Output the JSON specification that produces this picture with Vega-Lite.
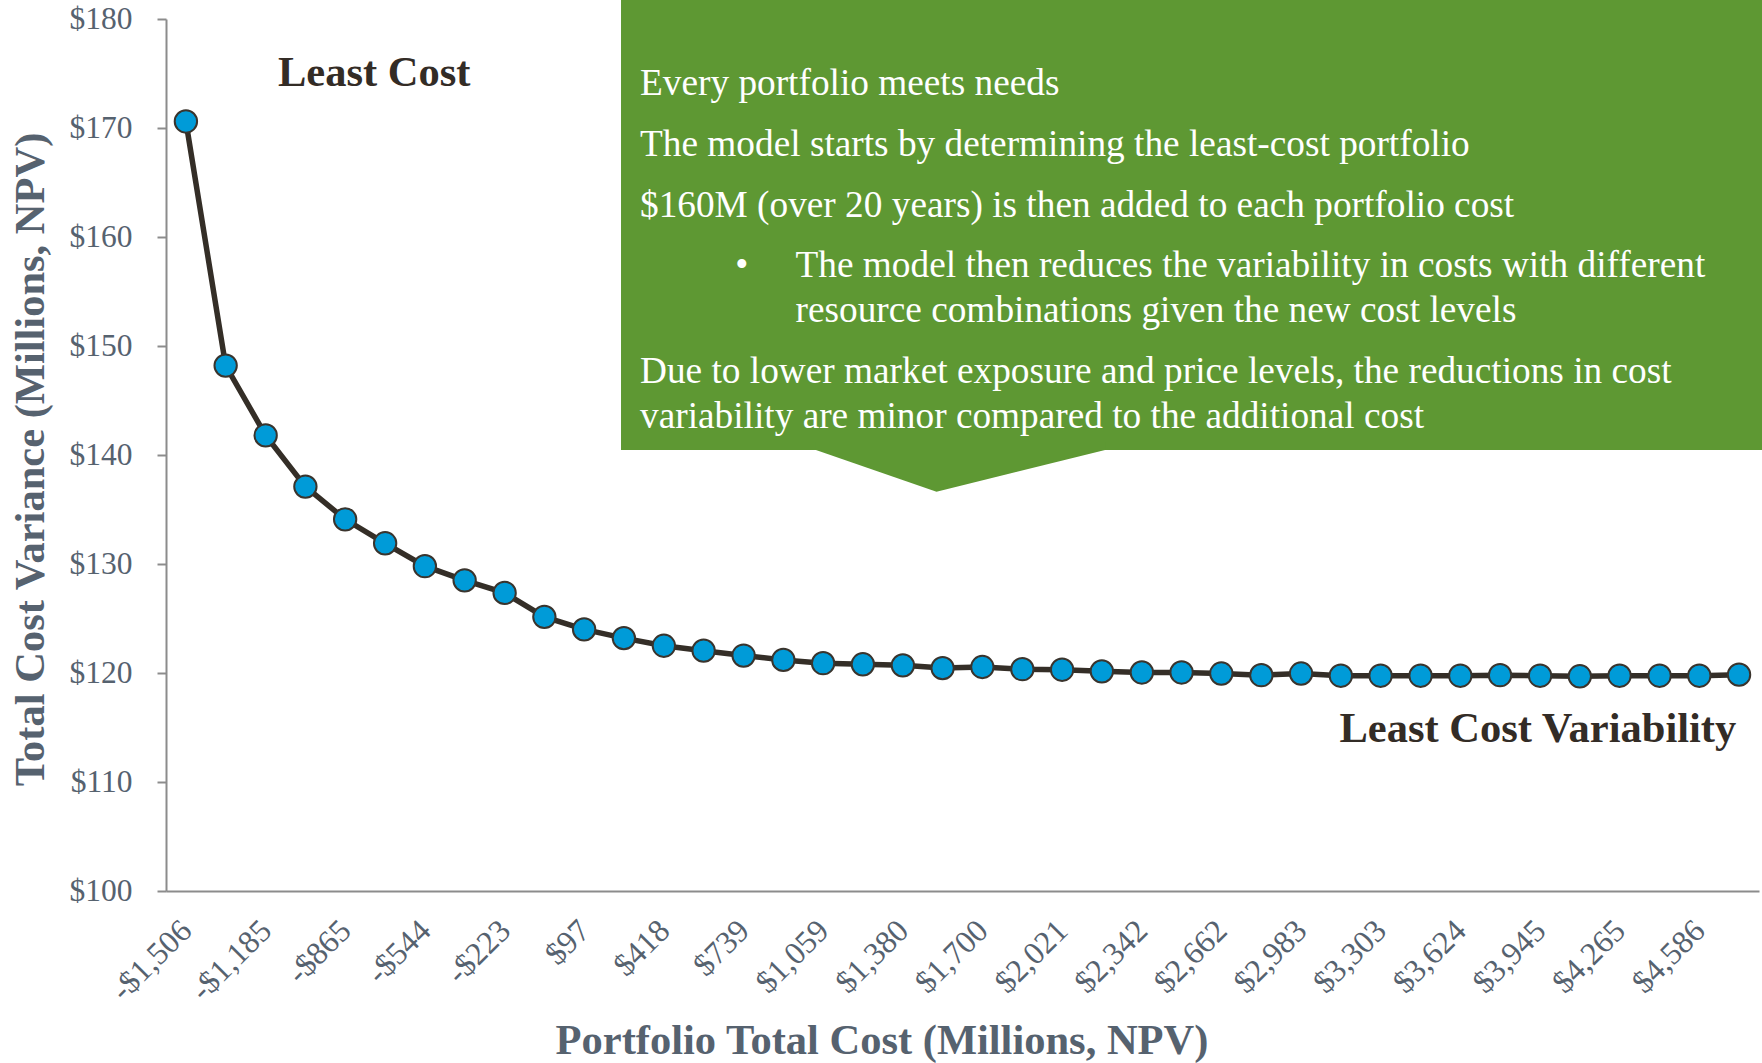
{
  "$schema": "https://vega.github.io/schema/vega-lite/v6.json",
  "width": 1593,
  "height": 872,
  "autosize": {"type": "none"},
  "padding": {"left": 166, "top": 19, "right": 3, "bottom": 172},
  "background": "white",
  "config": {"view": {"stroke": null}, "font": "Liberation Serif"},
  "datasets": {
    "series": [
      {"x": -1506, "y": 170.6},
      {"x": -1346, "y": 148.2},
      {"x": -1185, "y": 141.8},
      {"x": -1025, "y": 137.1},
      {"x": -865, "y": 134.1},
      {"x": -704, "y": 131.9},
      {"x": -544, "y": 129.8},
      {"x": -384, "y": 128.5},
      {"x": -223, "y": 127.35},
      {"x": -63, "y": 125.15},
      {"x": 97, "y": 124.0},
      {"x": 257, "y": 123.2},
      {"x": 418, "y": 122.5},
      {"x": 578, "y": 122.05},
      {"x": 739, "y": 121.6},
      {"x": 899, "y": 121.2},
      {"x": 1059, "y": 120.9},
      {"x": 1219, "y": 120.8},
      {"x": 1380, "y": 120.7},
      {"x": 1540, "y": 120.45},
      {"x": 1700, "y": 120.55},
      {"x": 1861, "y": 120.35},
      {"x": 2021, "y": 120.3},
      {"x": 2181, "y": 120.15},
      {"x": 2342, "y": 120.05},
      {"x": 2502, "y": 120.05},
      {"x": 2662, "y": 119.95},
      {"x": 2823, "y": 119.8},
      {"x": 2983, "y": 119.95},
      {"x": 3143, "y": 119.75},
      {"x": 3303, "y": 119.75},
      {"x": 3464, "y": 119.75},
      {"x": 3624, "y": 119.75},
      {"x": 3784, "y": 119.8},
      {"x": 3945, "y": 119.75},
      {"x": 4105, "y": 119.7},
      {"x": 4265, "y": 119.75},
      {"x": 4426, "y": 119.75},
      {"x": 4586, "y": 119.75},
      {"x": 4746, "y": 119.85}
    ],
    "box": [{"x": 245.5, "x2": 4900, "y": 140.46, "y2": 184}],
    "pointer": [
      {"x": 1030, "y": 141.2, "y2": 140.46},
      {"x": 1515.5, "y": 141.2, "y2": 136.63},
      {"x": 2194, "y": 141.2, "y2": 140.46}
    ],
    "notes": [
      {"x": 322, "y": 174.01, "text": "Every portfolio meets needs"},
      {"x": 322, "y": 168.44, "text": "The model starts by determining the least-cost portfolio"},
      {"x": 322, "y": 162.88, "text": "$160M (over 20 years) is then added to each portfolio cost"},
      {"x": 705.5, "y": 157.31, "text": "•"},
      {"x": 948, "y": 157.31, "text": "The model then reduces the variability in costs with different"},
      {"x": 948, "y": 153.18, "text": "resource combinations given the new cost levels"},
      {"x": 322, "y": 147.61, "text": "Due to lower market exposure and price levels, the reductions in cost"},
      {"x": 322, "y": 143.49, "text": "variability are minor compared to the additional cost"}
    ],
    "labels": [
      {"x": -1135.3, "y": 173.85, "text": "Least Cost"},
      {"x": 3137.7, "y": 113.7, "text": "Least Cost Variability"}
    ]
  },
  "encoding": {
    "x": {
      "field": "x", "type": "quantitative",
      "scale": {"domain": [-1586.1, 4826.3], "nice": false, "zero": false},
      "axis": {
        "title": "Portfolio Total Cost (Millions, NPV)",
        "values": [-1506, -1185, -865, -544, -223, 97, 418, 739, 1059, 1380, 1700, 2021, 2342, 2662, 2983, 3303, 3624, 3945, 4265, 4586],
        "labelExpr": "datum.value < 0 ? '-$' + format(-datum.value, ',') : '$' + format(datum.value, ',')",
        "labelAngle": -45,
        "labelAlign": "right",
        "labelBaseline": "middle",
        "labelFont": "Liberation Serif",
        "labelFontSize": 32,
        "labelColor": "#56626F",
        "labelPadding": 34,
        "labelOverlap": false,
        "labelBound": false,
        "labelFlush": false,
        "ticks": false,
        "grid": false,
        "domainColor": "#8C8C8C",
        "domainWidth": 2,
        "titleFont": "Liberation Serif",
        "titleFontSize": 42.5,
        "titleFontWeight": "bold",
        "titleColor": "#56626F",
        "titleX": 715.5,
        "titleY": 162,
        "titleAlign": "center",
        "titleBaseline": "alphabetic"
      }
    },
    "y": {
      "field": "y", "type": "quantitative",
      "scale": {"domain": [100, 180], "nice": false, "zero": false},
      "axis": {
        "title": "Total Cost Variance (Millions, NPV)",
        "values": [100, 110, 120, 130, 140, 150, 160, 170, 180],
        "labelExpr": "'$' + datum.value",
        "labelFont": "Liberation Serif",
        "labelFontSize": 31.5,
        "labelColor": "#56626F",
        "labelPadding": 25,
        "labelFlush": false,
        "labelBound": false,
        "tickSize": 9,
        "tickColor": "#8C8C8C",
        "tickWidth": 2,
        "grid": false,
        "domainColor": "#8C8C8C",
        "domainWidth": 2,
        "titleFont": "Liberation Serif",
        "titleFontSize": 42.5,
        "titleFontWeight": "bold",
        "titleColor": "#56626F",
        "titleAngle": -90,
        "titleX": -123,
        "titleY": 440,
        "titleAlign": "center",
        "titleBaseline": "alphabetic"
      }
    }
  },
  "layer": [
    {
      "data": {"name": "box"},
      "mark": {"type": "rect", "color": "#5E9833", "clip": false},
      "encoding": {
        "x2": {"field": "x2"},
        "y2": {"field": "y2"}
      }
    },
    {
      "data": {"name": "pointer"},
      "mark": {"type": "area", "color": "#5E9833", "clip": false, "interpolate": "linear", "orient": "vertical"},
      "encoding": {
        "y2": {"field": "y2"}
      }
    },
    {
      "data": {"name": "series"},
      "mark": {"type": "line", "color": "#342E27", "strokeWidth": 5.5},
      "encoding": {}
    },
    {
      "data": {"name": "series"},
      "mark": {"type": "point", "shape": "circle", "filled": true, "fill": "#009BD8", "stroke": "#3A342D", "strokeWidth": 2, "size": 500, "opacity": 1},
      "encoding": {}
    },
    {
      "data": {"name": "notes"},
      "mark": {"type": "text", "align": "left", "baseline": "middle", "font": "Liberation Serif", "fontSize": 37.3, "color": "white", "clip": false},
      "encoding": {
        "text": {"field": "text"}
      }
    },
    {
      "data": {"name": "labels"},
      "mark": {"type": "text", "align": "left", "baseline": "alphabetic", "font": "Liberation Serif", "fontSize": 42.5, "fontWeight": "bold", "color": "#332C26", "clip": false},
      "encoding": {
        "text": {"field": "text"}
      }
    }
  ]
}
